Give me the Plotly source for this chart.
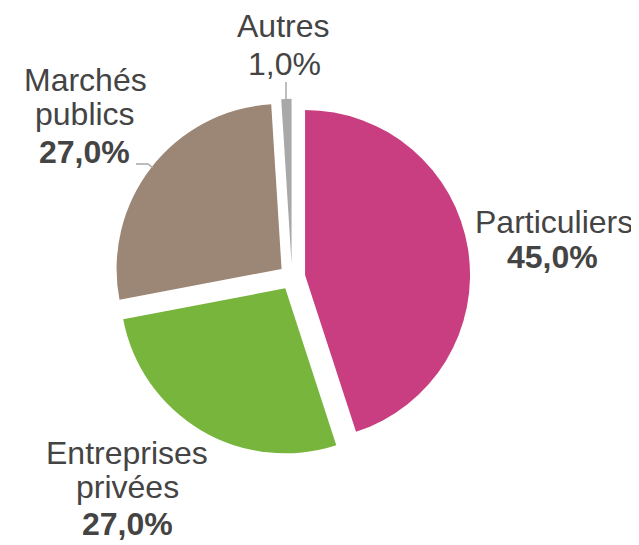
import plotly.graph_objects as go

# Data
categories = ["Particuliers", "Entreprises privées", "Marchés publics", "Autres"]
values = [45.0, 27.0, 27.0, 1.0]
pct_labels = ["45,0%", "27,0%", "27,0%", "1,0%"]
colors = ["#C93D81", "#77B53D", "#9C8676", "#A8A8A8"]

# page body has an 8px default margin -> figure drawn from (8, 8)
OFF = 8
W, H = 639 - OFF, 545 - OFF
FONT = "Liberation Sans, Arial, sans-serif"
TXT = "#444444"
FS = 32

def px(x):
    return (x - OFF) / W

def py(y):
    return 1 - (y - OFF) / H

# pie geometry (screen pixels)
cx, cy, r, pull = 292, 277, 165, 0.08
half = r * (1 + pull)

fig = go.Figure()
fig.add_trace(go.Pie(
    labels=categories,
    values=values,
    marker=dict(colors=colors, line=dict(width=0)),
    sort=False,
    direction="clockwise",
    rotation=0,
    pull=[pull] * len(values),
    textinfo="none",
    hoverinfo="label+percent",
    showlegend=False,
    domain=dict(x=[px(cx - half), px(cx + half)], y=[py(cy + half), py(cy - half)]),
))

# label lines: (text, center_x, baseline_y, bold)
label_lines = [
    ("Particuliers", 554, 233, False),
    (pct_labels[0], 552, 268, True),
    ("Entreprises", 127, 464, False),
    ("privées", 127, 498, False),
    (pct_labels[1], 127, 535, True),
    ("Marchés", 85, 91, False),
    ("publics", 85, 125, False),
    (pct_labels[2], 84, 163, True),
    (categories[3], 283, 37, False),
    (pct_labels[3], 284, 75, False),
]
for t, x, b, bold in label_lines:
    fig.add_annotation(
        x=px(x), y=py(b - 11), xref="paper", yref="paper",
        text=f"<b>{t}</b>" if bold else t,
        showarrow=False, xanchor="center", yanchor="middle",
        font=dict(family=FONT, size=FS, color=TXT),
    )

# leader lines
fig.add_shape(type="line", xref="paper", yref="paper",
              x0=px(286), y0=py(82), x1=px(286), y1=py(99),
              line=dict(color="#A8A8A8", width=1.5))
fig.add_shape(type="path", xref="paper", yref="paper",
              path=f"M {px(136)},{py(164)} L {px(148)},{py(164)} L {px(153)},{py(168)}",
              line=dict(color="#A8A8A8", width=1.5))

fig.update_layout(
    width=W, height=H,
    margin=dict(l=0, r=0, t=0, b=0),
    paper_bgcolor="white",
    plot_bgcolor="white",
)
fig.write_html("out.html")
